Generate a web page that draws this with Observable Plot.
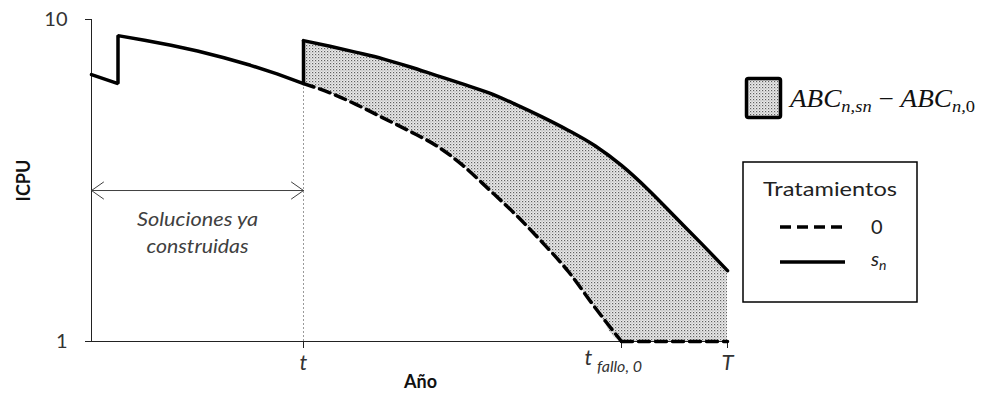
<!DOCTYPE html>
<html>
<head>
<meta charset="utf-8">
<script src="https://cdn.jsdelivr.net/npm/d3@7"></script>
<script src="https://cdn.jsdelivr.net/npm/@observablehq/plot@0.6"></script>
<style>
  body { margin: 0; background: #fff; }
  #chart { width: 983px; height: 399px; }
</style>
</head>
<body>
<div id="chart"></div>
<script>
// --- Data ---
// Past interventions (already built solutions): year and ICPU
const histYears  = [1, 2, 2, 3, 4, 5, 6, 7, 8, 9];
const histValues = [8.46, 8.21, 9.55, 9.42, 9.28, 9.12, 8.93, 8.72, 8.48, 8.21];

// Future years from t (=9) to T (=25)
const futureYears = [9, 10, 11, 12, 13, 14, 15, 16, 17, 18, 19, 20, 21, 22, 23, 24, 25];
// Treatment s_n
const snValues   = [9.41, 9.25, 9.08, 8.90, 8.68, 8.44, 8.20, 7.95, 7.63, 7.28, 6.90, 6.47, 5.92, 5.25, 4.50, 3.75, 2.98];
// Treatment 0 (do nothing)
const zeroValues = [8.21, 7.95, 7.62, 7.25, 6.88, 6.48, 5.93, 5.25, 4.55, 3.78, 2.95, 1.95, 1.00, 1.00, 1.00, 1.00, 1.00];

// Axis tick values and labels
const yTicks = [1, 10];
const xTicks = [9, 21, 25];
const xTickLabels = ["t", "", "T"];
const tYear = 9, tFallo = 21, tEnd = 25, tStart = 1;
const arrowLevel = 5.22;

// --- Derived tables ---
const future = futureYears.map((year, i) => ({year, sn: snValues[i], zero: zeroValues[i]}));
const solidHist = histYears.map((year, i) => ({year, v: histValues[i]}));
const solidFuture = future.map(d => ({year: d.year, v: d.sn}));
const dashedA = future.filter(d => d.year <= tFallo).map(d => ({year: d.year, v: d.zero}));
const dashedB = future.filter(d => d.year >= tFallo).map(d => ({year: d.year, v: d.zero}));

const ink = "#000";
const grayText = "#404040";
const font = "Lato, 'Open Sans', sans-serif";

const svg = Plot.plot({
  width: 983,
  height: 399,
  marginLeft: 91,
  marginRight: 256,
  marginTop: 19,
  marginBottom: 58,
  style: {fontFamily: font, background: "#fff", color: "#222"},
  x: {domain: [tStart, tEnd], axis: null},
  y: {domain: [1, 10], axis: null},
  marks: [
    // shaded area between treatments
    Plot.areaY(future, {x: "year", y1: "zero", y2: "sn", fill: "url(#dots)", curve: "monotone-x"}),
    // dotted guide at t
    Plot.ruleX([tYear], {y1: 1, y2: histValues[histValues.length - 1], stroke: "#9a9a9a", strokeWidth: 1, strokeDasharray: "2,2"}),
    // axis lines
    Plot.ruleY([1], {stroke: "#222", strokeWidth: 1}),
    Plot.ruleX([tStart], {stroke: "#222", strokeWidth: 1}),
    Plot.axisY(yTicks, {tickSize: 6, tickPadding: 18, fontSize: 20, label: null, stroke: "#222", fill: "#333"}),
    Plot.axisX(xTicks, {tickSize: 7, tickPadding: 6, fontSize: 22, fontStyle: "italic", label: null, stroke: "#222", fill: "#333",
      tickFormat: d => xTickLabels[xTicks.indexOf(d)]}),
    // t_fallo,0 label
    Plot.text([tFallo], {x: d => d, frameAnchor: "bottom", text: () => "t", dy: 23, dx: -33, fontSize: 22, fontStyle: "italic", fill: "#333"}),
    Plot.text([tFallo], {x: d => d, frameAnchor: "bottom", text: () => "fallo, 0", dy: 30, dx: -2, fontSize: 16, fontStyle: "italic", fill: "#333"}),
    // axis titles
    Plot.text(["ICPU"], {frameAnchor: "left", textAnchor: "middle", text: d => d, rotate: -90, dx: -67, fontSize: 18, fontWeight: "bold", fill: "#111"}),
    Plot.text(["Año"], {frameAnchor: "bottom", textAnchor: "middle", text: d => d, dx: 11, dy: 46, fontSize: 18, fontWeight: "bold", fill: "#111"}),
    // double-headed arrow for built solutions
    Plot.arrow([0], {x1: (tStart + tYear) / 2, x2: tStart, y1: arrowLevel, y2: arrowLevel, stroke: grayText, strokeWidth: 1, headLength: 22, headAngle: 70, insetEnd: 0}),
    Plot.arrow([0], {x1: (tStart + tYear) / 2, x2: tYear, y1: arrowLevel, y2: arrowLevel, stroke: grayText, strokeWidth: 1, headLength: 22, headAngle: 70, insetEnd: 0}),
    Plot.text(["Soluciones ya", "construidas"], {x: (tStart + tYear) / 2, y: arrowLevel, text: d => d, fontSize: 19, fontStyle: "italic", fill: grayText}),
    // lines
    Plot.line(dashedA, {x: "year", y: "v", stroke: ink, strokeWidth: 3.5, strokeDasharray: "11,6", curve: "monotone-x"}),
    Plot.line(dashedB, {x: "year", y: "v", stroke: ink, strokeWidth: 3.5, strokeDasharray: "11,6"}),
    Plot.line(solidHist, {x: "year", y: "v", stroke: ink, strokeWidth: 3.5, strokeLinejoin: "miter"}),
    Plot.ruleX([tYear], {y1: histValues[histValues.length - 1], y2: snValues[0], stroke: ink, strokeWidth: 3.5}),
    Plot.line(solidFuture, {x: "year", y: "v", stroke: ink, strokeWidth: 3.5, curve: "monotone-x"})
  ]
});

const s = d3.select(svg);
// fix the two text lines vertical offsets and widths
s.selectAll("text").filter(function() { return this.textContent === "Soluciones ya"; })
  .attr("dy", "29").attr("textLength", 121).attr("lengthAdjust", "spacingAndGlyphs");
s.selectAll("text").filter(function() { return this.textContent === "construidas"; })
  .attr("dy", "56").attr("textLength", 102).attr("lengthAdjust", "spacingAndGlyphs");

// dotted pattern
const defs = s.insert("defs", ":first-child");
const pat = defs.append("pattern").attr("id", "dots").attr("patternUnits", "userSpaceOnUse")
  .attr("width", 3).attr("height", 3);
pat.append("rect").attr("width", 3).attr("height", 3).attr("fill", "#eaeaea");
pat.append("rect").attr("x", 0).attr("y", 0).attr("width", 1.2).attr("height", 1.2).attr("fill", "#606060");
pat.append("rect").attr("x", 1.5).attr("y", 1.5).attr("width", 1.0).attr("height", 1.0).attr("fill", "#909090");

// legends
const lg = s.append("g").attr("font-family", font).attr("text-anchor", "start");
lg.append("rect").attr("x", 746.5).attr("y", 78.5).attr("width", 34).attr("height", 39).attr("rx", 2)
  .attr("fill", "url(#dots)").attr("stroke", "#000").attr("stroke-width", 3.5);
const f = lg.append("text").attr("x", 790).attr("y", 107).attr("font-family", "'Liberation Serif', 'DejaVu Serif', serif")
  .attr("font-size", 25).attr("font-style", "italic").attr("fill", "#111")
  .attr("textLength", 185).attr("lengthAdjust", "spacingAndGlyphs");
f.append("tspan").text("ABC");
f.append("tspan").attr("font-size", 17).attr("dy", 5).text("n,sn");
f.append("tspan").attr("dy", -5).attr("font-style", "normal").text(" − ");
f.append("tspan").text("ABC");
f.append("tspan").attr("font-size", 17).attr("dy", 5).text("n,");
f.append("tspan").attr("font-size", 17).attr("font-style", "normal").text("0");

lg.append("rect").attr("x", 743).attr("y", 162).attr("width", 174).attr("height", 140)
  .attr("fill", "#fff").attr("stroke", "#000").attr("stroke-width", 1.5);
lg.append("text").attr("x", 763).attr("y", 196).attr("font-size", 20).attr("fill", "#222")
  .attr("textLength", 134).attr("lengthAdjust", "spacingAndGlyphs").text("Tratamientos");
lg.append("line").attr("x1", 780).attr("x2", 845).attr("y1", 227).attr("y2", 227)
  .attr("stroke", "#000").attr("stroke-width", 3.5).attr("stroke-dasharray", "11,6");
lg.append("text").attr("x", 871).attr("y", 234).attr("font-size", 20).attr("fill", "#222").text("0");
lg.append("line").attr("x1", 780).attr("x2", 845).attr("y1", 262).attr("y2", 262)
  .attr("stroke", "#000").attr("stroke-width", 3.5);
const sn = lg.append("text").attr("x", 871).attr("y", 266).attr("font-size", 20).attr("font-style", "italic").attr("fill", "#222");
sn.append("tspan").text("s");
sn.append("tspan").attr("font-size", 14).attr("dy", 4).text("n");

document.getElementById("chart").appendChild(svg);
</script>
</body>
</html>
